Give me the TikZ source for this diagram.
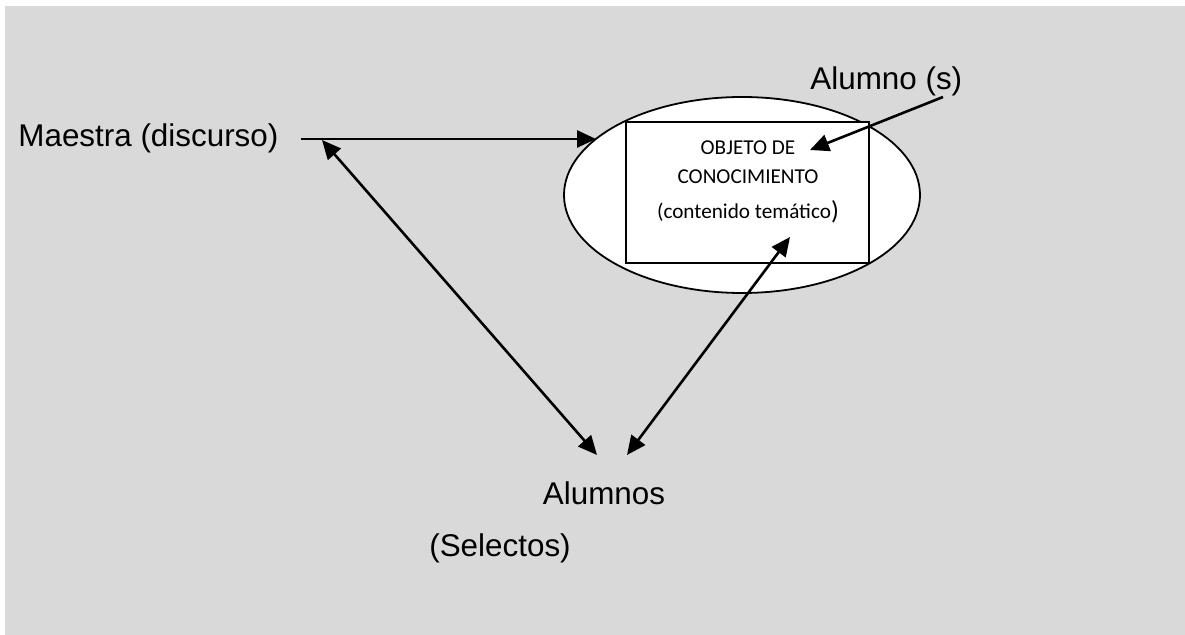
\documentclass[tikz,border=0pt]{standalone}
\usepackage{fontspec}
\setmainfont{Liberation Sans}
\newfontfamily\boxfont{Carlito}
\usetikzlibrary{arrows.meta,shapes.geometric}
\begin{document}
\begin{tikzpicture}[x=0.5pt,y=-0.5pt,
  label/.style={inner sep=0pt,font=\fontsize{15.7}{18}\selectfont},
  boxtext/.style={inner sep=0pt,font=\boxfont\fontsize{10.6}{12}\selectfont},
  head/.tip={Triangle[length=9.5pt,width=8.5pt]},
  link/.style={line width=1.3pt,-head},
  twoway/.style={line width=1.3pt,head-head}]
  \useasboundingbox (0,0) rectangle (1185,635);
  \fill[fill={rgb,255:red,217;green,217;blue,217}] (5,6) rectangle (1185,635);

  % central object of knowledge
  \draw[line width=0.9pt,fill=white] (742,195) ellipse [x radius=178,y radius=98];
  \node[draw,line width=1.2pt,fill=white,minimum width=121.5pt,minimum height=70.5pt,inner sep=0pt] (obj) at (747.5,192.5) {};
  \node[boxtext] (t1) at (748,148) {OBJETO DE};
  \node[boxtext] (t2) at (748,177) {CONOCIMIENTO};
  \node[boxtext] (t3) at (748,212) {(contenido temático\raisebox{-0.5pt}{\fontsize{13}{14}\selectfont)}};

  % labels
  \node[label,anchor=base west] (maestra) at (18,147) {Maestra (discurso)};
  \node[label,anchor=base west] (alumno) at (810,90) {Alumno (s)};
  \node[label,anchor=base] (alumnos) at (604,505) {Alumnos};
  \node[label,anchor=base] (selectos) at (500,557) {(Selectos)};

  % connector end points
  \coordinate (mOut) at (301,139);
  \coordinate (eIn) at (596,139);
  \coordinate (mTip) at (322,140);
  \coordinate (aLeft) at (597,455);
  \coordinate (aRight) at (627,455);
  \coordinate (oTip) at (790,237);
  \coordinate (sOut) at (943,97);
  \coordinate (sTip) at (810,150);

  % connectors
  \draw[link] (mOut) -- (eIn);
  \draw[link] (sOut) -- (sTip);
  \draw[twoway] (mTip) -- (aLeft);
  \draw[twoway] (aRight) -- (oTip);
\end{tikzpicture}
\end{document}
